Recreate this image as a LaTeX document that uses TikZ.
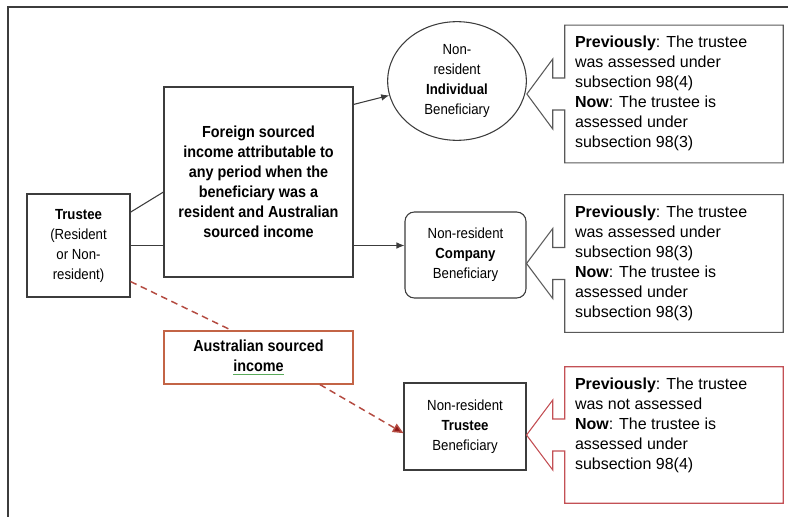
\documentclass[tikz,border=0pt]{standalone}
\usepackage{fontspec}
\setmainfont{Liberation Sans}
\newfontfamily\narrowfont[FakeStretch=0.9]{Liberation Sans}
\usetikzlibrary{arrows.meta,calc,shapes.geometric}
\definecolor{frame}{RGB}{60,60,60}
\definecolor{ausedge}{RGB}{195,100,70}
\definecolor{dashred}{RGB}{180,75,65}
\definecolor{tipred}{RGB}{145,25,25}
\definecolor{callred}{RGB}{195,80,85}
\definecolor{wavy}{RGB}{90,170,90}
\tikzset{
  box/.style={draw=frame, line width=0.8pt, align=center, inner sep=2pt, font=\narrowfont\fontsize{11}{15}\selectfont},
  bigbox/.style={box, font=\narrowfont\bfseries\fontsize{12}{15}\selectfont},
  callframe/.style={minimum width=163.5pt, minimum height=103pt, inner sep=0pt},
  calltext/.style={anchor=north west, inner sep=0pt, align=left, font=\fontsize{12}{15}\selectfont},
  callline/.style={draw=black!65, line width=0.8pt, line join=miter},
  arr/.style={-{Latex[length=6pt,width=5pt]}, line width=0.8pt, draw=frame},
  redline/.style={dashred, line width=1.1pt, dash pattern=on 5pt off 3.5pt}
}
\newcommand\callout[2]{% box, source node
  \draw[callline] (#1.north west) -- (#1.north east) -- (#1.south east) -- (#1.south west)
    -- ($(#1.west)+(0,16)$) -- ++(-12,0) -- ($(#1.west)+(-12,35)$) -- (#2.east |- #1.west)
    -- ($(#1.west)+(-12,-35)$) -- ++(0,19) -- ++(12,0) -- cycle;}
\begin{document}
\begin{tikzpicture}[x=0.75pt, y=-0.75pt]
\useasboundingbox (0,0) rectangle (788,517);
\draw[frame, line width=1.1pt] (8,517) -- (8,7) -- (788,7);

\node[box, minimum width=77.25pt, minimum height=77.25pt] (trust) at (78.5,245.5)
  {\textbf{Trustee}\\(Resident\\or Non-\\resident)};
\node[bigbox, minimum width=141.75pt, minimum height=142.5pt] (fsi) at (258.5,182)
  {Foreign sourced\\income attributable to\\any period when the\\beneficiary was a\\resident and Australian\\sourced income};
\node[bigbox, draw=ausedge, minimum width=141.75pt, minimum height=39.75pt] (aus) at (258.5,357.5)
  {Australian sourced\\{\color{wavy}\underline{\textcolor{black}{income}}}};

\node[box, ellipse, minimum width=104pt, minimum height=89pt] (ind) at (457,81)
  {Non-\\resident\\\textbf{Individual}\\Beneficiary};
\node[box, rounded corners=7pt, minimum width=90.75pt, minimum height=64.5pt] (comp) at (465.5,255)
  {Non-resident\\\textbf{Company}\\Beneficiary};
\node[box, minimum width=91.5pt, minimum height=65.25pt] (tben) at (465,426.5)
  {Non-resident\\\textbf{Trustee}\\Beneficiary};

\node[callframe] (c1) at (674,94) {};
\node[callframe] (c2) at (674,263.5) {};
\node[callframe, minimum height=102pt] (c3) at (674,435) {};
\callout{c1}{ind}
\callout{c2}{comp}
\begin{scope}[callline/.append style={draw=callred}]
\callout{c3}{tben}
\end{scope}
\node[calltext] at ([shift={(10,11)}]c1.north west)
  {\textbf{Previously}: The trustee\\was assessed under\\subsection 98(4)\\\textbf{Now}: The trustee is\\assessed under\\subsection 98(3)};
\node[calltext] at ([shift={(10,11)}]c2.north west)
  {\textbf{Previously}: The trustee\\was assessed under\\subsection 98(3)\\\textbf{Now}: The trustee is\\assessed under\\subsection 98(3)};
\node[calltext] at ([shift={(10,11)}]c3.north west)
  {\textbf{Previously}: The trustee\\was not assessed\\\textbf{Now}: The trustee is\\assessed under\\subsection 98(4)};

\draw[frame, line width=0.8pt] ([yshift=25pt]trust.east) -- ([yshift=-7.5pt]fsi.west);
\draw[frame, line width=0.8pt] (trust.east) -- (trust.east -| fsi.west);
\draw[arr] ([yshift=-13.5pt]fsi.north east) -- (ind.192);
\draw[arr] (fsi.east |- trust.east) -- (comp.west |- trust.east);
\draw[redline] ([yshift=12pt]trust.south east) -- ([xshift=-20pt]aus.north);
\draw[redline, -{Triangle[length=8pt,width=7pt,fill=tipred]}]
  ([xshift=46pt]aus.south) -- ([yshift=-5pt]tben.west);
\end{tikzpicture}
\end{document}
